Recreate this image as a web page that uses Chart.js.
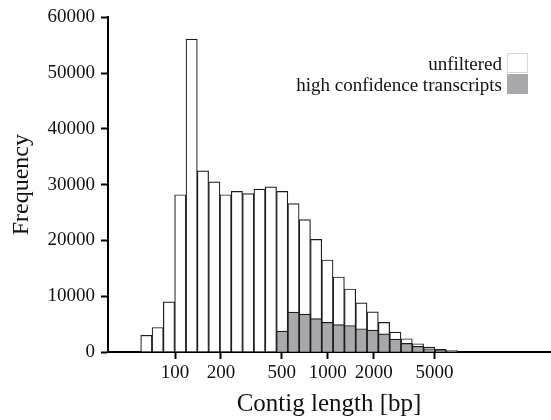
<!DOCTYPE html>
<html>
<head>
<meta charset="utf-8">
<script src="https://cdn.jsdelivr.net/npm/chart.js@4/dist/chart.umd.min.js"></script>
<style>
  html, body { margin: 0; padding: 0; background: #fff; }
  #wrap { width: 551px; height: 420px; position: relative; }
</style>
</head>
<body>
<div id="wrap"><canvas id="histChart"></canvas></div>
<script>
// bin centres (bp), log-spaced bins
const binCenters = [64.9, 77.0, 91.3, 108.3, 128.5, 152.4, 180.8, 214.4, 254.3, 301.6,
                    357.7, 424.3, 503.3, 596.9, 707.9, 839.5, 995.6, 1181, 1401, 1661,
                    1970, 2337, 2772, 3287, 3899, 4624, 5484, 6504];
const unfiltered = [3000, 4400, 9000, 28200, 56100, 32500, 30500, 28200, 28800, 28400,
                    29200, 29600, 28800, 26600, 23750, 20200, 16500, 13450, 11300, 8800,
                    7200, 5300, 3570, 2380, 1480, 890, 480, 240];
const highConfidence = [0, 0, 0, 0, 0, 0, 0, 0, 0, 0,
                        0, 0, 3750, 7150, 6790, 5980, 5330, 4900, 4760, 4170,
                        3930, 3270, 2320, 1550, 1020, 590, 360, 180];
const xTickValues = [100, 200, 500, 1000, 2000, 5000];
const yTickValues = [0, 10000, 20000, 30000, 40000, 50000, 60000];

const GRAY = '#a7a8ac';
const INK = '#1c1c1c';

Chart.defaults.font.family = '"Liberation Serif", "DejaVu Serif", serif';
Chart.defaults.color = '#111';

// legend in the upper right corner: text then swatch
const cornerLegend = {
    id: 'cornerLegend',
    afterDraw(chart) {
        const ctx = chart.ctx;
        const rows = [
            { label: chart.data.datasets[0].label, fill: '#ffffff', stroke: '#d6d6d6', top: 53 },
            { label: chart.data.datasets[1].label, fill: GRAY, stroke: GRAY, top: 74 }
        ];
        ctx.save();
        ctx.font = '19px "Liberation Serif"';
        ctx.textAlign = 'right';
        ctx.textBaseline = 'alphabetic';
        rows.forEach(r => {
            ctx.fillStyle = r.fill;
            ctx.fillRect(507, r.top, 21, 20);
            ctx.strokeStyle = r.stroke;
            ctx.lineWidth = 1;
            ctx.strokeRect(507.5, r.top + 0.5, 20, 19);
            ctx.fillStyle = '#111';
            ctx.fillText(r.label, 502, r.top + 17);
        });
        ctx.restore();
    }
};

const ctx = document.getElementById('histChart').getContext('2d');

new Chart(ctx, {
    type: 'bar',
    data: {
        labels: binCenters,
        datasets: [
            {
                label: 'unfiltered',
                data: unfiltered,
                backgroundColor: '#ffffff',
                borderColor: INK,
                borderWidth: 1.2,
                order: 2
            },
            {
                label: 'high confidence transcripts',
                data: highConfidence,
                backgroundColor: GRAY,
                borderColor: INK,
                borderWidth: 1.2,
                order: 1
            }
        ]
    },
    options: {
        responsive: true,
        maintainAspectRatio: false,
        animation: false,
        layout: { padding: { top: 16, right: 1, left: 0, bottom: 0 } },
        datasets: {
            bar: { grouped: false, barPercentage: 1, categoryPercentage: 1 }
        },
        scales: {
            x: {
                type: 'logarithmic',
                min: 36.4,
                max: 28560,
                bounds: 'data',
                offset: false,
                afterBuildTicks: scale => {
                    scale.ticks = xTickValues.map(v => ({ value: v, major: false }));
                },
                afterFit: scale => { scale.height = 68; },
                ticks: {
                    autoSkip: false,
                    maxRotation: 0,
                    padding: 3,
                    font: { size: 19 },
                    color: '#111',
                    callback: v => String(v)
                },
                grid: {
                    offset: false,
                    drawOnChartArea: false,
                    drawTicks: true,
                    tickLength: 7,
                    tickWidth: 2,
                    tickColor: '#000'
                },
                border: { display: true, color: '#000', width: 2 },
                title: {
                    display: true,
                    text: 'Contig length [bp]',
                    font: { size: 25 },
                    color: '#111',
                    padding: { top: 0, bottom: 1 }
                }
            },
            y: {
                min: 0,
                max: 60000,
                afterBuildTicks: scale => {
                    scale.ticks = yTickValues.map(v => ({ value: v }));
                },
                afterFit: scale => { scale.width = 108; },
                ticks: {
                    padding: 6,
                    font: { size: 19 },
                    color: '#111',
                    callback: v => String(v)
                },
                grid: {
                    drawOnChartArea: false,
                    drawTicks: true,
                    tickLength: 7,
                    tickWidth: 2,
                    tickColor: '#000'
                },
                border: { display: true, color: '#000', width: 2 },
                title: {
                    display: true,
                    text: 'Frequency',
                    font: { size: 24 },
                    color: '#111',
                    padding: { top: 7, bottom: 0 }
                }
            }
        },
        plugins: {
            legend: { display: false },
            tooltip: { enabled: false }
        }
    },
    plugins: [cornerLegend]
});
</script>
</body>
</html>
